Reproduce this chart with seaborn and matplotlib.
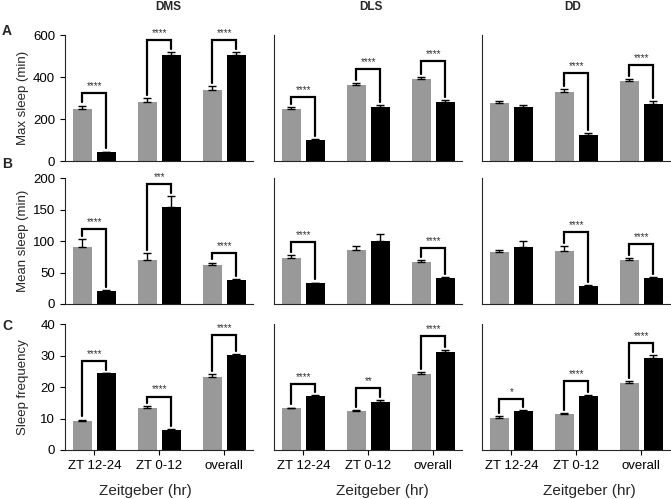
import pandas as pd
import seaborn as sns
import matplotlib.pyplot as plt
import numpy as np

# categories
zt_labels = ['ZT 12-24', 'ZT 0-12', 'overall']
regions = ['DMS', 'DLS', 'DD']
groups = ['ctrl', 'exp']

# max sleep (min), rows = DMS, DLS, DD
max_ctrl = [[250, 283, 338], [248, 360, 390], [275, 327, 380]]
max_ctrl_err = [[14, 17, 18], [10, 12, 10], [11, 14, 12]]
max_exp = [[42, 505, 505], [98, 258, 280], [258, 124, 273]]
max_exp_err = [[3, 15, 15], [5, 10, 12], [8, 8, 13]]
max_bracket = [[322, 576, 576], [306, 437, 475], [None, 420, 457]]
max_stars = [['****', '****', '****'], ['****', '****', '****'], ['', '****', '****']]

# mean sleep (min)
mean_ctrl = [[90, 70, 62], [73, 86, 67], [82, 84, 70]]
mean_ctrl_err = [[13, 11, 4], [5, 6, 3], [4, 8, 2.5]]
mean_exp = [[21, 155, 38], [33, 101, 42], [90, 29, 42]]
mean_exp_err = [[1, 17, 1], [1, 11, 1], [10, 1, 1]]
mean_bracket = [[119, 191, 81], [99, None, 89], [None, 114, 95]]
mean_stars = [['****', '***', '****'], ['****', '', '****'], ['', '****', '****']]

# sleep frequency
freq_ctrl = [[9.3, 13.4, 23.3], [13.3, 12.3, 24.3], [10.3, 11.3, 21.2]]
freq_ctrl_err = [[0.4, 0.7, 0.9], [0.2, 0.3, 0.5], [0.4, 0.4, 0.7]]
freq_exp = [[24.4, 6.4, 30.3], [17.3, 15.3, 31.3], [12.4, 17.3, 29.2]]
freq_exp_err = [[0.2, 0.2, 0.3], [0.1, 0.5, 0.5], [0.3, 0.3, 0.9]]
freq_bracket = [[28.4, 17.0, 36.7], [20.9, 19.6, 36.3], [16.1, 22.0, 34.0]]
freq_stars = [['****', '****', '****'], ['****', '**', '****'], ['*', '****', '****']]

metrics = [
    ('Max sleep (min)', 600, [0, 200, 400, 600], max_ctrl, max_ctrl_err, max_exp, max_exp_err, max_bracket, max_stars),
    ('Mean sleep (min)', 200, [0, 50, 100, 150, 200], mean_ctrl, mean_ctrl_err, mean_exp, mean_exp_err, mean_bracket, mean_stars),
    ('Sleep frequency', 40, [0, 10, 20, 30, 40], freq_ctrl, freq_ctrl_err, freq_exp, freq_exp_err, freq_bracket, freq_stars),
]

sns.set_style('ticks')
plt.rcParams['font.family'] = ['Liberation Sans', 'DejaVu Sans']
plt.rcParams['axes.linewidth'] = 0.8
plt.rcParams['xtick.major.width'] = 0.8
plt.rcParams['ytick.major.width'] = 0.8
plt.rcParams['xtick.major.size'] = 3.6
plt.rcParams['ytick.major.size'] = 3.6

W, H = 671, 499
fig = plt.figure(figsize=(W / 100, H / 100), dpi=100)

col_left = [65, 274, 482]
col_w = 188
row_span = [(35, 161), (178.3, 304), (324.3, 450)]
xlabel_x = [0.43, 0.574, 0.572]
palette = {'ctrl': '#999999', 'exp': 'black'}

for r, (ylab, ymax, yticks, c_val, c_err, e_val, e_err, brk, stars) in enumerate(metrics):
    top, bot = row_span[r]
    for c in range(3):
        ax = fig.add_axes([col_left[c] / W, 1 - bot / H, col_w / W, (bot - top) / H])
        df = pd.DataFrame({
            'zt': zt_labels * 2,
            'group': ['ctrl'] * 3 + ['exp'] * 3,
            'value': c_val[c] + e_val[c],
        })
        sns.barplot(data=df, x='zt', y='value', hue='group', order=zt_labels,
                    hue_order=groups, palette=palette, width=0.74, gap=0.22,
                    errorbar=None, legend=False, saturation=1, linewidth=0, ax=ax)

        bars = sorted(ax.patches, key=lambda p: p.get_x())
        errs = [v for pair in zip(c_err[c], e_err[c]) for v in pair]
        xs = [p.get_x() + p.get_width() / 2 for p in bars]
        hs = [p.get_height() for p in bars]
        ax.errorbar(xs, hs, yerr=[np.zeros(len(errs)), errs], fmt='none',
                    ecolor='black', elinewidth=1, capsize=3, capthick=1)

        gap = 0.025 * ymax
        for i in range(3):
            yb = brk[c][i]
            if yb is None:
                continue
            x1, x2 = xs[2 * i], xs[2 * i + 1]
            y1 = hs[2 * i] + errs[2 * i] + gap
            y2 = hs[2 * i + 1] + errs[2 * i + 1] + gap
            ax.plot([x1, x1, x2, x2], [y1, yb, yb, y2], color='black',
                    lw=1.6, clip_on=False, solid_joinstyle='miter')
            ax.annotate(stars[c][i], xy=((x1 + x2) / 2, yb), xytext=(0, 1.5),
                        textcoords='offset points', ha='center', va='bottom',
                        fontsize=7, color='#333333', annotation_clip=False)

        ax.set_xlim(-0.45, 2.44)
        ax.set_ylim(0, ymax)
        ax.set_yticks(yticks)
        sns.despine(ax=ax)
        ax.set_xlabel('')
        ax.set_ylabel('')
        ax.tick_params(labelsize=9.5, colors='black')

        if c == 0:
            ax.set_ylabel(ylab, fontsize=9.5)
            ax.yaxis.set_label_coords(-0.192, 0.5)
        else:
            ax.tick_params(axis='y', left=False, labelleft=False)

        if r == 2:
            ax.set_xlabel('Zeitgeber (hr)', fontsize=11)
            ax.xaxis.set_label_coords(xlabel_x[c], -0.27)
        else:
            ax.tick_params(axis='x', bottom=False, labelbottom=False)

# column titles and panel letters
for name, x in zip(regions, [168, 371, 573]):
    fig.text(x / W, 1 - 7 / H, name, ha='center', va='center',
             fontsize=8.5, fontweight='bold')
for letter, y in zip(['A', 'B', 'C'], [31, 164, 326]):
    fig.text(2 / W, 1 - y / H, letter, ha='left', va='center',
             fontsize=10, fontweight='bold')

fig.savefig('out.png', dpi=100)
